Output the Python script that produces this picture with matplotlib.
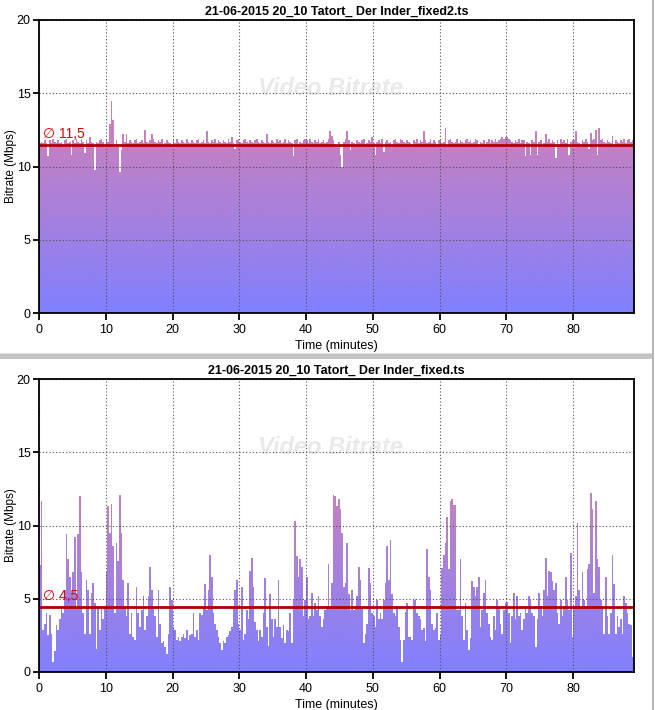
import numpy as np
import matplotlib
matplotlib.use("Agg")
import matplotlib.pyplot as plt
from matplotlib.patches import Rectangle
from matplotlib.lines import Line2D

# one sample every quarter minute
STEP_MIN = 0.25

# bitrate of "..._fixed2.ts" (Mbps), 0 .. 89 min
fixed2_mbps = [
    11.6, 11.7, 11.6, 11.8, 11.6, 10.7, 11.8, 11.6, 11.9, 11.7,
    11.6, 11.8, 11.6, 11.7, 11.3, 11.8, 11.9, 11.6, 11.7, 10.8,
    11.8, 11.6, 11.9, 11.7, 11.6, 11.9, 11.7, 10.95, 11.8, 11.6,
    12.0, 11.7, 11.6, 9.75, 11.7, 11.6, 11.8, 11.9, 11.7, 11.3,
    # 10 min
    11.9, 11.7, 12.9, 14.5, 13.2, 11.3, 11.8, 11.3, 9.6, 11.1,
    12.2, 11.7, 12.2, 11.6, 11.8, 11.7, 11.6, 11.8, 11.9, 11.6,
    11.7, 11.8, 11.6, 12.5, 11.7, 11.6, 11.8, 12.2, 11.9, 11.7,
    11.6, 11.8, 11.7, 11.9, 11.3, 11.6, 11.8, 11.7, 11.6, 11.4,
    # 20 min
    11.8, 11.6, 11.9, 11.7, 11.6, 11.8, 11.7, 11.6, 11.9, 11.7,
    11.6, 11.8, 11.7, 11.6, 11.8, 11.9, 11.6, 11.7, 11.8, 11.6,
    12.4, 11.7, 11.6, 11.8, 11.7, 11.9, 11.6, 11.8, 11.7, 11.6,
    11.8, 11.7, 11.6, 11.9, 11.7, 12.0, 11.6, 11.2, 11.8, 11.9,
    # 30 min
    11.7, 11.6, 11.8, 11.9, 11.7, 11.6, 11.8, 11.7, 11.6, 11.8,
    11.9, 11.7, 11.6, 11.8, 11.7, 11.6, 12.2, 11.7, 11.6, 11.8,
    11.7, 11.6, 11.9, 11.7, 11.8, 11.6, 11.7, 11.9, 11.6, 11.8,
    11.7, 11.6, 10.7, 11.8, 11.9, 11.3, 11.7, 11.6, 11.8, 11.9,
    # 40 min
    11.8, 11.6, 11.9, 11.7, 11.6, 11.8, 11.7, 11.9, 11.6, 11.7,
    11.8, 11.6, 11.7, 11.9, 12.4, 12.1, 11.8, 11.3, 11.3, 11.7,
    10.8, 10.0, 11.7, 11.9, 12.4, 11.8, 11.1, 11.7, 11.6, 11.3,
    11.8, 11.7, 11.6, 11.8, 11.9, 11.3, 11.6, 11.8, 11.7, 12.0,
    # 50 min
    11.6, 10.8, 11.7, 11.8, 11.6, 11.9, 11.0, 11.7, 11.8, 11.6,
    11.7, 11.3, 11.8, 11.9, 11.7, 11.6, 11.9, 11.8, 11.7, 11.6,
    11.8, 11.7, 11.6, 11.4, 11.8, 11.7, 11.9, 11.6, 11.8, 11.7,
    12.4, 11.8, 11.6, 11.7, 11.9, 11.6, 11.8, 11.7, 11.3, 11.8,
    # 60 min
    11.8, 11.6, 11.7, 12.6, 11.3, 11.8, 11.9, 11.7, 11.6, 11.7,
    11.9, 11.6, 11.8, 11.7, 11.6, 11.8, 11.9, 11.7, 11.8, 11.6,
    11.7, 11.9, 11.8, 11.3, 11.7, 11.6, 11.8, 11.3, 11.7, 11.9,
    11.6, 11.8, 11.7, 11.9, 11.7, 11.8, 11.9, 12.0, 11.9, 12.0,
    # 70 min
    12.0, 11.9, 11.8, 11.7, 11.6, 11.8, 11.7, 11.9, 11.6, 11.8,
    11.8, 10.7, 11.7, 11.6, 10.8, 11.8, 11.7, 12.4, 10.8, 11.7,
    11.8, 11.3, 11.6, 12.2, 11.7, 11.9, 11.6, 11.8, 11.7, 10.6,
    11.8, 11.4, 11.9, 11.7, 11.8, 11.6, 11.9, 10.8, 11.7, 11.8,
    # 80 min
    11.8, 12.4, 11.7, 11.6, 11.3, 11.8, 11.7, 11.9, 11.7, 11.2,
    12.3, 11.8, 11.9, 12.5, 10.8, 12.6, 11.8, 11.9, 11.7, 11.6,
    11.8, 11.7, 11.6, 12.1, 11.3, 11.8, 11.7, 11.6, 11.8, 11.7,
    11.9, 11.6, 11.8, 11.9, 11.7, 11.8, 11.6,
]

# bitrate of "..._fixed.ts" (Mbps), 0 .. 89 min
fixed_mbps = [
    7.3, 11.7, 2.9, 3.3, 4.0, 2.5, 3.9, 2.6, 0.7, 1.4,
    3.2, 2.9, 3.6, 4.4, 4.0, 5.6, 9.4, 7.7, 6.5, 5.4,
    6.8, 9.2, 4.5, 9.4, 12.0, 6.8, 4.0, 2.6, 6.3, 5.6,
    2.6, 5.4, 6.1, 4.7, 1.6, 4.5, 2.9, 4.4, 3.6, 4.5,
    # 10 min
    6.8, 11.3, 9.5, 11.5, 8.6, 4.0, 8.8, 7.6, 12.1, 9.5,
    6.3, 4.5, 3.8, 6.1, 2.6, 4.0, 2.4, 2.2, 5.8, 4.0,
    3.1, 4.2, 5.2, 2.9, 3.8, 5.2, 7.2, 5.6, 4.5, 3.8,
    2.4, 5.6, 3.3, 2.0, 2.1, 1.7, 1.2, 2.6, 5.8, 4.9,
    # 20 min
    3.1, 2.9, 2.2, 2.4, 2.1, 2.4, 2.6, 2.3, 2.9, 2.2,
    2.5, 2.6, 4.0, 2.4, 2.9, 2.2, 4.0, 3.9, 4.5, 6.0,
    4.2, 5.6, 8.0, 6.5, 4.0, 3.3, 2.9, 2.4, 2.0, 1.5,
    2.1, 2.0, 2.4, 2.5, 2.8, 3.1, 4.5, 5.6, 6.3, 3.3,
    # 30 min
    2.9, 5.8, 2.2, 2.6, 4.2, 3.6, 6.9, 7.8, 5.8, 3.4,
    2.9, 2.1, 2.9, 2.4, 4.0, 6.4, 3.1, 1.8, 5.3, 3.6,
    2.4, 3.6, 3.1, 6.3, 3.1, 2.3, 3.2, 2.0, 2.9, 2.8,
    4.0, 2.0, 4.9, 10.3, 7.9, 6.5, 7.7, 7.2, 3.8, 4.9,
    # 40 min
    6.5, 3.6, 3.8, 5.4, 3.8, 4.7, 4.2, 5.2, 3.8, 3.1,
    3.6, 4.2, 4.5, 7.4, 4.5, 6.1, 12.1, 12.0, 11.3, 11.8,
    11.1, 9.5, 5.8, 6.1, 8.8, 5.3, 4.2, 5.6, 4.2, 4.5,
    5.2, 7.2, 6.3, 4.5, 2.0, 2.6, 3.3, 7.1, 6.1, 4.0,
    # 50 min
    3.8, 3.1, 4.9, 3.6, 4.0, 3.6, 4.9, 6.1, 8.6, 6.3,
    9.0, 5.3, 4.0, 3.8, 4.5, 3.1, 2.2, 0.7, 2.2, 4.1,
    4.7, 2.4, 2.4, 2.2, 4.9, 5.0, 4.0, 3.8, 3.6, 2.9,
    3.0, 2.1, 8.4, 6.5, 5.6, 3.3, 2.9, 3.0, 4.0, 2.2,
    # 60 min
    2.6, 7.1, 8.0, 8.8, 10.6, 7.0, 11.7, 11.8, 11.4, 11.4,
    4.2, 4.2, 7.7, 3.8, 2.2, 4.7, 2.9, 1.5, 2.3, 6.2,
    5.8, 5.2, 5.8, 6.5, 3.1, 4.2, 5.4, 6.3, 4.0, 3.3,
    2.4, 2.2, 3.8, 2.9, 4.9, 4.5, 3.3, 2.6, 4.2, 4.7,
    # 70 min
    4.8, 4.0, 2.0, 3.8, 5.4, 3.6, 5.2, 3.8, 4.0, 2.9,
    3.6, 4.5, 4.0, 5.2, 4.9, 4.0, 3.8, 1.7, 3.6, 5.4,
    4.5, 3.8, 5.6, 7.8, 5.2, 6.9, 6.8, 6.2, 5.6, 6.1,
    4.0, 3.3, 4.9, 3.8, 4.5, 6.5, 4.9, 4.2, 8.1, 2.4,
    # 80 min
    4.5, 5.2, 10.2, 5.6, 4.5, 6.8, 4.9, 4.5, 7.0, 7.4,
    12.2, 11.1, 5.4, 11.7, 7.7, 7.2, 4.9, 4.5, 2.6, 6.5,
    3.8, 2.6, 4.0, 8.0, 6.0, 2.6, 3.8, 3.1, 3.6, 2.6,
    5.2, 4.7, 4.0, 3.3, 3.2, 1.0, 0.7,
]

series = [fixed2_mbps, fixed_mbps]
avg_mbps = [11.46, 4.46]
titles = [
    "21-06-2015 20_10 Tatort_ Der Inder_fixed2.ts",
    "21-06-2015 20_10 Tatort_ Der Inder_fixed.ts",
]
x_ticks = [0, 10, 20, 30, 40, 50, 60, 70, 80]
y_ticks = [0, 5, 10, 15, 20]

FONT = ["Liberation Sans", "DejaVu Sans"]
plt.rcParams["font.family"] = FONT

W, H = 655, 710
fig = plt.figure(figsize=(W / 100, H / 100), dpi=100, facecolor="white")

# pixel boxes of the two plot areas: (left, top, right, bottom)
boxes = [(39, 20, 634, 313), (39, 379, 634, 672)]


def bitrate_gradient(ax, patch):
    """Vertical blue -> pink gradient, shown only inside the bitrate area."""
    v = np.linspace(0, 20, 256)[:, None]
    lo = np.array([128, 128, 255]) / 255.0
    hi = np.array([214, 128, 178]) / 255.0
    t = np.clip(v / 15.0, 0, 1)[..., None]
    rgb = lo + (hi - lo) * t
    im = ax.imshow(rgb, extent=[0, 90, 0, 20], origin="lower", aspect="auto",
                   interpolation="bilinear", zorder=1)
    im.set_clip_path(patch)


for box, vals, avg, title in zip(boxes, series, avg_mbps, titles):
    l, t, r, b = box
    ax = fig.add_axes([l / W, 1 - b / H, (r - l) / W, (b - t) / H])

    edges = np.arange(len(vals) + 1) * STEP_MIN
    patch = ax.stairs(vals, edges, baseline=0, fill=True,
                      facecolor="none", edgecolor="none")
    bitrate_gradient(ax, patch)

    ax.axhline(avg, color="#b00000", linewidth=2.0, zorder=3)
    ax.text(0.6, avg + 0.25, "\u2205 " + f"{avg:.1f}".replace(".", ","),
            color="#e00000", fontsize=10, ha="left", va="bottom", zorder=4)

    ax.text(0.489, 0.765, "Video Bitrate", transform=ax.transAxes,
            color="#e9e9e9", fontsize=17, fontweight="bold", style="italic",
            ha="center", va="center", zorder=0.5)

    ax.set_xlim(0, 89.1)
    ax.set_ylim(0, 20)
    ax.set_xticks(x_ticks)
    ax.set_yticks(y_ticks)
    ax.set_axisbelow(False)
    ax.grid(True, color="#505050", linestyle=(0, (1, 2)), linewidth=0.8)
    for gl in ax.get_xgridlines() + ax.get_ygridlines():
        gl.set_zorder(2)

    for s in ax.spines.values():
        s.set_linewidth(1.3)
        s.set_zorder(5)
    ax.tick_params(axis="x", direction="out", length=5, width=1.3, pad=3,
                   labelsize=9)
    ax.tick_params(axis="y", direction="out", length=4, width=1.3, pad=2,
                   labelsize=9)

    ax.set_title(title, fontsize=9, fontweight="bold", pad=4)
    ax.set_xlabel("Time (minutes)", fontsize=9, labelpad=3)
    ax.set_ylabel("Bitrate (Mbps)", fontsize=8.5, va="center")
    ax.yaxis.set_label_coords(-28 / 595, 0.5)

# splitter between the two charts and the right window border
fig.add_artist(Rectangle((0, 1 - 359 / H), 652 / W, 6 / H,
                         transform=fig.transFigure, facecolor="#c4c4c4",
                         edgecolor="none"))
fig.add_artist(Rectangle((0, 1 - 354 / H), 652 / W, 1.5 / H,
                         transform=fig.transFigure, facecolor="#dedede",
                         edgecolor="none"))
fig.add_artist(Line2D([652.5 / W, 652.5 / W], [0, 1], transform=fig.transFigure,
                      color="#a8a8a8", linewidth=1.2))

fig.savefig("out.png", dpi=100, facecolor="white")
